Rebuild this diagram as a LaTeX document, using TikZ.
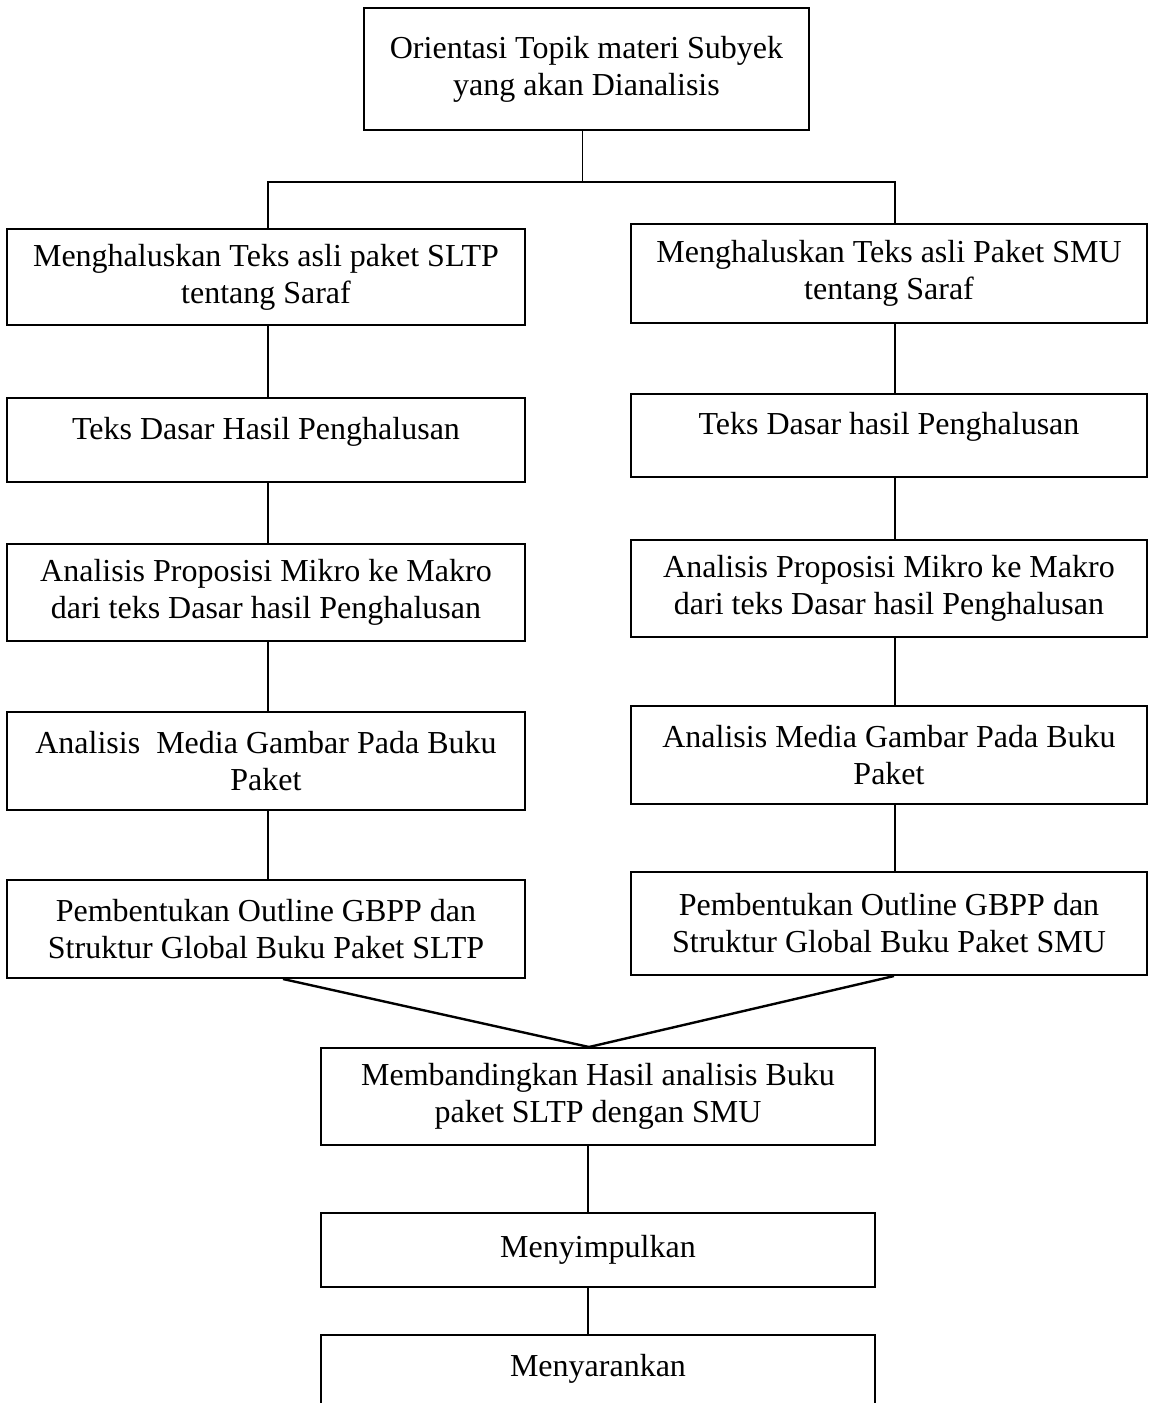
\documentclass[tikz,border=0pt]{standalone}
\usepackage{fontspec}
\setmainfont{Liberation Serif}
\usepackage{tikz}
\usetikzlibrary{calc,positioning}
\tikzset{
  box/.style={draw, line width=2pt, align=center, inner sep=0pt, text centered, font=\fontsize{32}{37}\selectfont},
  lbox/.style={box, minimum width=518pt},
  rbox/.style={box, minimum width=516pt},
  bbox/.style={box, minimum width=554pt},
  oneline/.style={text height=22pt, text depth=24pt},
  link/.style={line width=1.3pt},
  merge/.style={line width=2.4pt}
}

\begin{document}
\begin{tikzpicture}[x=1pt, y=-1pt]
  \useasboundingbox (0,0) rectangle (1153,1403);
  \clip (0,0) rectangle (1153,1403);
  \node[box, minimum width=445pt, minimum height=122pt] (topik) at (586.5,69) {Orientasi Topik materi Subyek\\yang akan Dianalisis};
  % kolom SLTP
  \node[lbox, minimum height=96pt] (hsltp) at (266,277) {Menghaluskan Teks asli paket SLTP\\tentang Saraf};
  \node[lbox, oneline, minimum height=84pt] (dsltp) at (266,440) {Teks Dasar Hasil Penghalusan};
  \node[lbox, minimum height=97pt] (psltp) at (266,592.5) {Analisis Proposisi Mikro ke Makro\\dari teks Dasar hasil Penghalusan};
  \node[lbox, minimum height=98pt] (msltp) at (266,761) {Analisis~ Media Gambar Pada Buku\\Paket};
  \node[lbox, minimum height=98pt] (osltp) at (266,929) {Pembentukan Outline GBPP dan\\Struktur Global Buku Paket SLTP};
  % kolom SMU
  \node[rbox, minimum height=99pt] (hsmu) at (889,273.5) {Menghaluskan Teks asli Paket SMU\\tentang Saraf};
  \node[rbox, oneline, minimum height=83pt] (dsmu) at (889,435.5) {Teks Dasar hasil Penghalusan};
  \node[rbox, minimum height=97pt] (psmu) at (889,588) {Analisis Proposisi Mikro ke Makro\\dari teks Dasar hasil Penghalusan};
  \node[rbox, minimum height=98pt] (msmu) at (889,755) {Analisis Media Gambar Pada Buku\\Paket};
  \node[rbox, minimum height=103pt] (osmu) at (889,923.5) {Pembentukan Outline GBPP dan\\Struktur Global Buku Paket SMU};
  % bagian bawah
  \node[bbox, minimum height=97pt] (banding) at (598,1096.5) {Membandingkan Hasil analisis Buku\\paket SLTP dengan SMU};
  \node[bbox, minimum height=74pt] (simpul) at (598,1250) {Menyimpulkan};
  \node[bbox, oneline, minimum height=85pt] (saran) at (598,1377.5) {Menyarankan};

  \draw[link] ([xshift=-4pt]topik.south) -- ++(0,51) coordinate (bus);
  \draw[link] ([xshift=2pt]hsltp.north) |- (bus) -| ([xshift=6pt]hsmu.north);
  \foreach \a/\b in {hsltp/dsltp, dsltp/psltp, psltp/msltp, msltp/osltp}
    \draw[link] ([xshift=2pt]\a.south) -- ([xshift=2pt]\b.north);
  \foreach \a/\b in {hsmu/dsmu, dsmu/psmu, psmu/msmu, msmu/osmu}
    \draw[link] ([xshift=6pt]\a.south) -- ([xshift=6pt]\b.north);
  \draw[merge] ([xshift=17pt]osltp.south) -- ([xshift=-9pt]banding.north);
  \draw[merge] ([xshift=5pt]osmu.south) -- ([xshift=-9pt]banding.north);
  \draw[link] ([xshift=-10pt]banding.south) -- ([xshift=-10pt]simpul.north);
  \draw[link] ([xshift=-10pt]simpul.south) -- ([xshift=-10pt]saran.north);
\end{tikzpicture}
\end{document}
